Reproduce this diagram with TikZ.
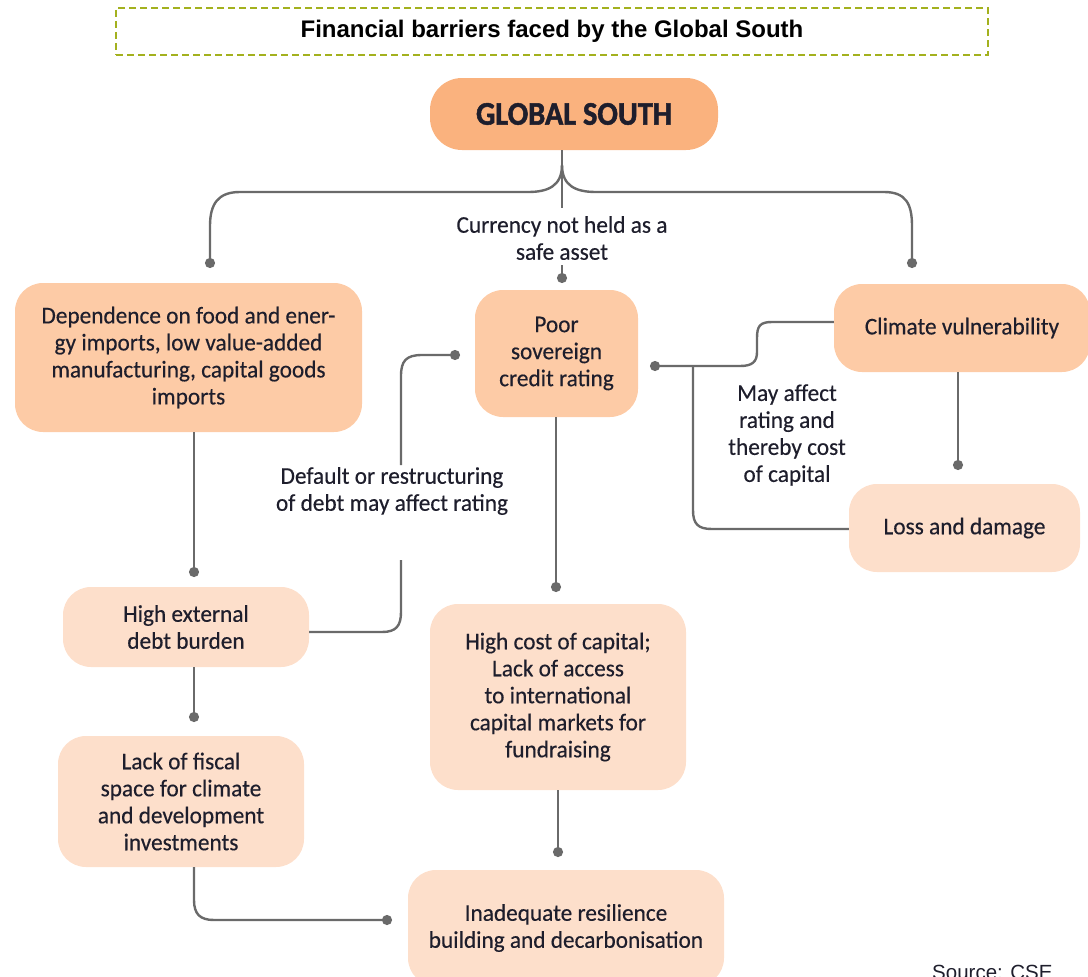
\documentclass[tikz,border=0pt]{standalone}
\usepackage{fontspec}
\setmainfont[FakeStretch=0.97, FakeBold=0.35]{Carlito}
\newfontfamily\gsfont[FakeBold=1.6, FakeStretch=0.92]{Carlito}
\newfontfamily\titlefont{Liberation Sans}
\usetikzlibrary{arrows.meta}
\definecolor{gsfill}{HTML}{FAB27E}
\definecolor{midfill}{HTML}{FDCBA6}
\definecolor{lightfill}{HTML}{FDDFCB}
\definecolor{linec}{HTML}{6A6A6A}
\definecolor{txt}{HTML}{1E1E2C}
\definecolor{olive}{HTML}{A3B11E}
\begin{document}
\begin{tikzpicture}[x=1pt,y=-1pt,
  box/.style={rounded corners=28pt, align=center, text=txt, inner sep=0pt,
    font=\fontsize{24}{27}\selectfont},
  lbl/.style={align=center, text=txt, inner sep=0pt, font=\fontsize{24}{27}\selectfont},
  conn/.style={draw=linec, line width=2.4pt},
  dotend/.style={conn, -{Circle[length=10pt,width=10pt]}}
]
\useasboundingbox (0,0) rectangle (1088,977);

% title
\node[draw=olive, dashed, dash pattern=on 7pt off 4pt, line width=1.8pt,
  minimum width=872pt, minimum height=47pt, inner sep=0pt,
  font=\titlefont\bfseries\fontsize{24}{28}\selectfont] (title) at (552,31.5)
  {Financial barriers faced by the Global South};

% boxes
\node[box, fill=gsfill, rounded corners=32pt, minimum width=288pt, minimum height=72pt,
  font=\gsfont\bfseries\fontsize{33}{36}\selectfont] (gs) at (574,114) {GLOBAL SOUTH};
\node[box, fill=midfill, minimum width=347pt, minimum height=149pt] (dep) at (188.5,357.5)
  {Dependence on food and ener-\\gy imports, low value-added\\manufacturing, capital goods\\imports};
\node[box, fill=midfill, minimum width=163pt, minimum height=127pt] (poor) at (556.5,353.5)
  {Poor\\sovereign\\credit rating};
\node[box, fill=midfill, minimum width=256pt, minimum height=88pt] (clim) at (962,328)
  {Climate vulnerability};
\node[box, fill=lightfill, minimum width=231pt, minimum height=88pt] (loss) at (964.5,528)
  {Loss and damage};
\node[box, fill=lightfill, minimum width=246pt, minimum height=80pt] (hext) at (186,627)
  {High external\\debt burden};
\node[box, fill=lightfill, minimum width=246pt, minimum height=131pt] (fisc) at (181,801.5)
  {Lack of fiscal\\space for climate\\and development\\investments};
\node[box, fill=lightfill, minimum width=256pt, minimum height=186pt] (cost) at (558,697)
  {High cost of capital;\\Lack of access\\to international\\capital markets for\\fundraising};
\node[box, fill=lightfill, minimum width=316pt, minimum height=116pt] (inad) at (566,928)
  {Inadequate resilience\\building and decarbonisation};

% labels
\node[lbl] (currency) at (562,238) {Currency not held as a\\safe asset};
\node[lbl] (default) at (392,491) {Default or restructuring\\of debt may affect rating};
\node[lbl] (mayaff) at (787,435) {May affect\\rating and\\thereby cost\\of capital};
\node[anchor=north west, inner sep=0pt, text=txt, font=\titlefont\fontsize{20.5}{24}\selectfont]
  (source) at (932,965) {Source: CSE};

% helper coordinates
\coordinate (stem) at (562,150);
\coordinate (dotl) at (210,268);
\coordinate (dotr) at (912,268);
\coordinate (dotc) at (562,283);
\coordinate (dotdh) at (194,577);
\coordinate (dothf) at (194,722);
\coordinate (dotfi) at (392,920);
\coordinate (dotpc) at (556,592);
\coordinate (dotci) at (558,857);
\coordinate (dotcl) at (958,470);
\coordinate (dotcp) at (650,366);
\coordinate (dothp) at (460,355);

% global south branches
\draw[conn] (stem) -- (562,208);
\draw[dotend] (562,165) .. controls (562,186) and (548,192) .. (528,192)
  -- (240,192) .. controls (218,192) and (210,204) .. (210,226) -- (dotl);
\draw[dotend] (562,165) .. controls (562,186) and (576,192) .. (596,192)
  -- (884,192) .. controls (906,192) and (912,204) .. (912,226) -- (dotr);
\draw[dotend] (562,265) -- (dotc);

% vertical chains
\draw[dotend] (dep.south -| dotdh) -- (dotdh);
\draw[dotend] (hext.south -| dothf) -- (dothf);
\draw[dotend] (fisc.south -| 194,0) -- (194,900) .. controls (194,914) and (200,920) .. (214,920) -- (dotfi);
\draw[dotend] (poor.south -| dotpc) -- (dotpc);
\draw[dotend] (cost.south -| dotci) -- (dotci);
\draw[dotend] (clim.south -| dotcl) -- (dotcl);

% climate -> poor
\draw[dotend] (clim.west |- 0,322) -- (772,322) .. controls (760,322) and (757,326) .. (757,338)
  -- (757,352) .. controls (757,362) and (752,366) .. (740,366) -- (dotcp);
\draw[conn] (loss.west |- 0,529) -- (712,529) .. controls (698,529) and (693,524) .. (693,510) -- (693,366);

% debt -> poor
\draw[conn] (hext.east |- 0,632) -- (382,632) .. controls (396,632) and (401,626) .. (401,612) -- (401,560);
\draw[dotend] (401,465) -- (401,376) .. controls (401,361) and (406,355) .. (422,355) -- (dothp);
\end{tikzpicture}
\end{document}
